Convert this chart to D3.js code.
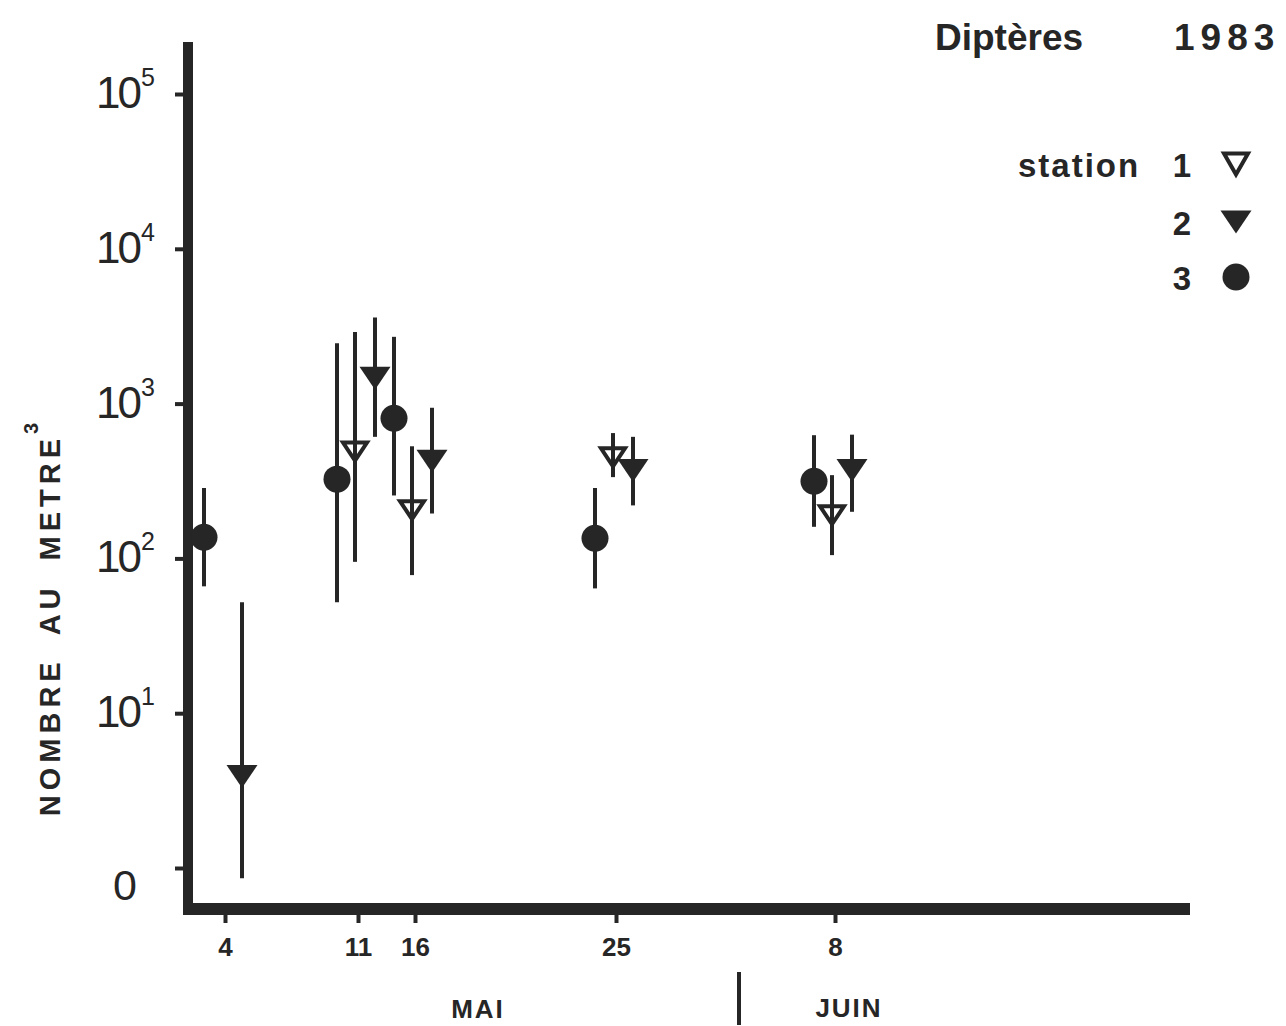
<!DOCTYPE html>
<html>
<head>
<meta charset="utf-8">
<script src="https://cdn.jsdelivr.net/npm/d3@7"></script>
<style>
  body { margin: 0; background: #fff; }
  text { font-family: "Liberation Sans", Arial, sans-serif; fill: #262626; }
</style>
</head>
<body>
<svg id="chart" width="1286" height="1026"></svg>
<script>
// Sampling dates (day of May; 39 = 8 June) and their printed labels
const sampleDays = [4, 11, 16, 25, 39];
const dayLabels = ["4", "11", "16", "25", "8"];

// Log axis ticks and the exponent printed on each
const yTickValues = [1, 10, 100, 1000, 10000, 100000];
const yTickExponents = ["", "1", "2", "3", "4", "5"];

// Station 1 (open triangle)
const st1Mean = [null, 490, 205, 450, 190];
const st1Low = [null, 95, 78, 335, 105];
const st1High = [null, 2900, 530, 645, 345];

// Station 2 (filled triangle)
const st2Mean = [3.9, 1460, 425, 370, 370];
const st2Low = [0.86, 610, 195, 220, 200];
const st2High = [52, 3600, 940, 610, 630];

// Station 3 (filled circle)
const st3Mean = [137, 325, 805, 135, 315];
const st3Low = [66, 52, 255, 64, 160];
const st3High = [285, 2450, 2700, 285, 625];

const INK = "#262626";

class DipteresChart {
    constructor(selector = "#chart") {
        this.svg = d3.select(selector);
        // hand-drawn date axis: spacing is not uniform
        this.x = d3.scaleLinear()
            .domain(sampleDays)
            .range([225, 358, 415, 616, 835]);
        this.y = d3.scaleLog()
            .domain([1, 1e5])
            .range([868, 94]);
        this.dodge = { "1": -3, "2": 17, "3": -21 };
        this.stations = [
            { id: "1", shape: "open", mean: st1Mean, low: st1Low, high: st1High },
            { id: "2", shape: "tri", mean: st2Mean, low: st2Low, high: st2High },
            { id: "3", shape: "dot", mean: st3Mean, low: st3Low, high: st3High }
        ];
    }

    draw() {
        this.drawAxes();
        this.drawSeries();
        this.drawLegend();
    }

    triPath(w, h) {
        return `M${-w / 2},${-h / 2}L${w / 2},${-h / 2}L0,${h / 2}Z`;
    }

    addMarker(g, shape, big) {
        if (shape === "dot") {
            g.append("circle").attr("r", 13.5).attr("fill", INK);
        } else if (shape === "tri") {
            g.append("path").attr("d", this.triPath(31, 23)).attr("fill", INK);
        } else {
            g.append("path")
                .attr("d", big ? this.triPath(24, 21) : this.triPath(24, 18))
                .attr("fill", "none")
                .attr("stroke", INK)
                .attr("stroke-width", 4)
                .attr("stroke-linejoin", "miter");
        }
    }

    drawAxes() {
        const svg = this.svg;

        // Y ticks
        const yAxis = svg.append("g")
            .attr("transform", "translate(184,0)")
            .call(d3.axisLeft(this.y).tickValues(yTickValues).tickSize(9).tickFormat(""));
        yAxis.select(".domain").remove();
        yAxis.selectAll(".tick line").attr("stroke", INK).attr("stroke-width", 4);

        // Y tick labels: 0, 10^1 ... 10^5
        yTickValues.forEach((v, i) => {
            const exp = yTickExponents[i];
            const ty = this.y(v);
            if (exp === "") {
                svg.append("text")
                    .attr("x", 125).attr("y", ty + 32)
                    .attr("text-anchor", "middle")
                    .style("font-size", "43px")
                    .text("0");
                return;
            }
            const t = svg.append("text")
                .attr("x", 96).attr("y", ty + 14)
                .style("font-size", "44px");
            t.append("tspan").style("letter-spacing", "-3px").text("10");
            t.append("tspan")
                .attr("dx", 2).attr("dy", -22)
                .style("font-size", "25px")
                .text(exp);
        });

        // X ticks and date labels
        const xAxis = svg.append("g")
            .attr("transform", "translate(0,914)")
            .call(d3.axisBottom(this.x).tickValues(sampleDays).tickSize(9)
                .tickFormat((d, i) => dayLabels[i]));
        xAxis.select(".domain").remove();
        xAxis.selectAll(".tick line").attr("stroke", INK).attr("stroke-width", 4);
        xAxis.selectAll(".tick text")
            .attr("y", 42).attr("dy", null)
            .style("font-size", "26px")
            .style("font-weight", "bold")
            .style("font-family", "'Liberation Sans', Arial, sans-serif")
            .attr("fill", INK);

        // Heavy frame lines
        svg.append("line")
            .attr("x1", 188).attr("y1", 42).attr("x2", 188).attr("y2", 914)
            .attr("stroke", INK).attr("stroke-width", 10);
        svg.append("line")
            .attr("x1", 183).attr("y1", 909).attr("x2", 1190).attr("y2", 909)
            .attr("stroke", INK).attr("stroke-width", 12);

        // Months
        svg.append("text")
            .attr("x", 478).attr("y", 1018)
            .attr("text-anchor", "middle")
            .style("font-size", "26px").style("font-weight", "bold")
            .style("letter-spacing", "2px")
            .text("MAI");
        svg.append("line")
            .attr("x1", 739).attr("y1", 972).attr("x2", 739).attr("y2", 1025)
            .attr("stroke", INK).attr("stroke-width", 4);
        svg.append("text")
            .attr("x", 849).attr("y", 1017)
            .attr("text-anchor", "middle")
            .style("font-size", "26px").style("font-weight", "bold")
            .style("letter-spacing", "2px")
            .text("JUIN");

        // Y title
        const yt = svg.append("text")
            .attr("transform", "translate(60,617) rotate(-90)")
            .attr("text-anchor", "middle")
            .style("font-size", "29px").style("font-weight", "bold")
            .style("letter-spacing", "5px")
            .style("word-spacing", "10px");
        yt.append("tspan").text("NOMBRE AU METRE");
        yt.append("tspan")
            .attr("dy", -22)
            .style("font-size", "20px")
            .text("3");
    }

    drawSeries() {
        const g = this.svg.append("g");
        const rows = [];
        this.stations.forEach(s => {
            sampleDays.forEach((d, i) => {
                if (s.mean[i] == null) return;
                rows.push({
                    shape: s.shape,
                    cx: this.x(d) + this.dodge[s.id],
                    mean: s.mean[i], low: s.low[i], high: s.high[i]
                });
            });
        });

        // Range lines
        g.selectAll("line.range")
            .data(rows)
            .enter()
            .append("line")
            .attr("class", "range")
            .attr("x1", d => d.cx).attr("x2", d => d.cx)
            .attr("y1", d => this.y(d.high))
            .attr("y2", d => this.y(d.low))
            .attr("stroke", INK)
            .attr("stroke-width", 4);

        // Markers on top
        rows.forEach(d => {
            const m = g.append("g")
                .attr("transform", `translate(${d.cx},${this.y(d.mean)})`);
            this.addMarker(m, d.shape, false);
        });
    }

    drawLegend() {
        const svg = this.svg;
        svg.append("text")
            .attr("x", 935).attr("y", 50)
            .style("font-size", "37px").style("font-weight", "bold")
            .text("Diptères");
        svg.append("text")
            .attr("x", 1174).attr("y", 50)
            .style("font-size", "37px").style("font-weight", "bold")
            .style("letter-spacing", "6px")
            .text("1983");

        svg.append("text")
            .attr("x", 1018).attr("y", 177)
            .style("font-size", "33px").style("font-weight", "bold")
            .style("letter-spacing", "2px")
            .text("station");

        const rowsY = [177, 235, 290];
        this.stations.forEach((s, i) => {
            svg.append("text")
                .attr("x", 1191).attr("y", rowsY[i])
                .attr("text-anchor", "end")
                .style("font-size", "33px").style("font-weight", "bold")
                .text(s.id);
            const m = svg.append("g")
                .attr("transform", `translate(1236,${rowsY[i] - 13})`);
            this.addMarker(m, s.shape, true);
        });
    }
}

const chart = new DipteresChart();
chart.draw();
</script>
</body>
</html>
